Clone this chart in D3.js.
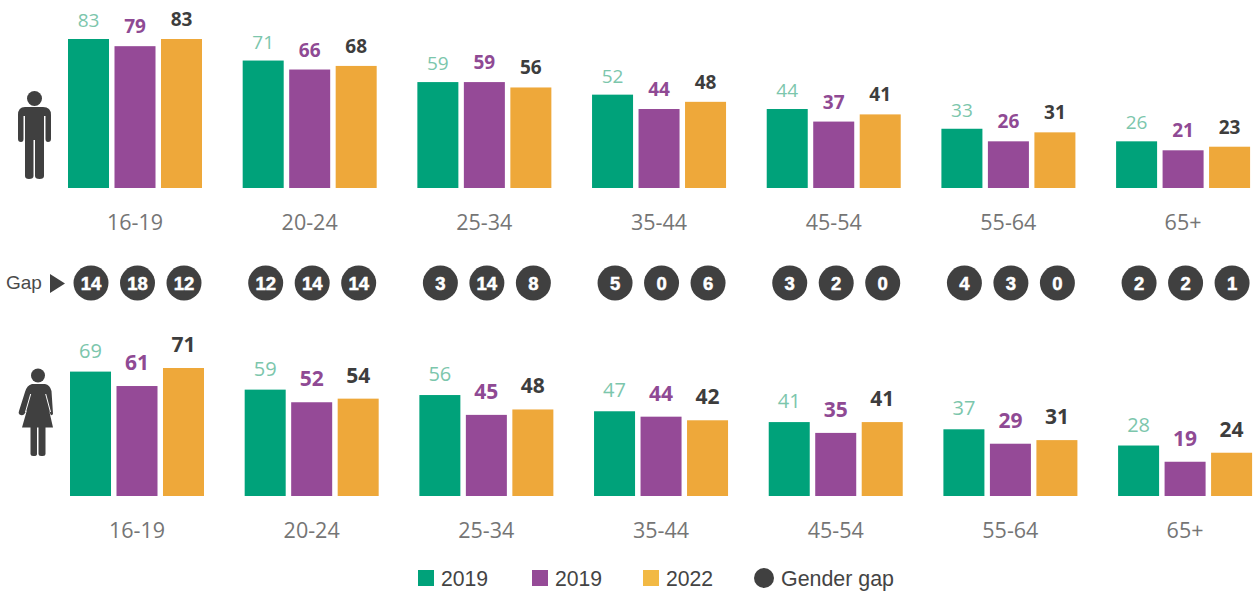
<!DOCTYPE html>
<html><head><meta charset="utf-8">
<script src="https://cdn.jsdelivr.net/npm/d3@7"></script>
<style>html,body{margin:0;padding:0;background:#fff}svg{display:block}</style>
</head><body><svg id="c" width="1259" height="594"></svg>
<script>
const ages = ["16-19","20-24","25-34","35-44","45-54","55-64","65+"];
const seriesNames = ["2019","2019b","2022"];
const legendLabels = ["2019","2019","2022"];
const barColors = ["#00a27a","#954a97","#eea83a"];
const legendColors = ["#00a27a","#954a97","#f2b944"];
const labelColors = ["#7cc6ac","#8f4a94","#3d3d3d"];
const labelWeights = [400,700,700];
const men2019a = [83,71,59,52,44,33,26];
const men2019b = [79,66,59,44,37,26,21];
const men2022  = [83,68,56,48,41,31,23];
const women2019a = [69,59,56,47,41,37,28];
const women2019b = [61,52,45,44,35,29,19];
const women2022  = [71,54,48,42,41,31,24];
const gapA = [14,12,3,5,3,4,2];
const gapB = [18,14,14,0,2,3,2];
const gapC = [12,14,8,6,0,0,1];

const svg = d3.select("#c");
const dark = "#404040";
const sans = "'Open Sans',sans-serif";
const arial = "'Liberation Sans',Arial,sans-serif";

const xInner = d3.scaleBand().domain(seriesNames).range([0,134]).paddingInner(0.118);
const xTop = d3.scaleBand().domain(ages).range([68,1250]).paddingInner(0.2334);
const xBot = d3.scaleBand().domain(ages).range([70,1252]).paddingInner(0.2334);
const yTop = d3.scaleLinear().domain([0,83]).range([188,39]);
const yBot = d3.scaleLinear().domain([0,71]).range([496,368]);

function panel(cls, x, y, rows, labelOffset, labelSizes, ageY){
  const g = svg.append("g").attr("class",cls);
  ages.forEach((a,i)=>{
    const ag = g.append("g").attr("transform",`translate(${x(a)},0)`);
    rows.forEach((r,s)=>{
      ag.append("rect").attr("x",xInner(seriesNames[s])).attr("y",y(r[i]))
        .attr("width",xInner.bandwidth()).attr("height",y(0)-y(r[i])).attr("fill",barColors[s]);
      ag.append("text").attr("x",xInner(seriesNames[s])+xInner.bandwidth()/2)
        .attr("y",y(r[i])-labelOffset[s]).attr("text-anchor","middle")
        .attr("font-family",sans).attr("font-size",labelSizes[s]).attr("font-weight",labelWeights[s])
        .attr("fill",labelColors[s]).text(r[i]);
    });
  });
  const axis = d3.axisBottom(x).tickSize(0).tickPadding(0);
  const ax = g.append("g").attr("transform",`translate(0,${ageY})`).call(axis);
  ax.select(".domain").remove();
  ax.selectAll("text").attr("font-family",sans).attr("font-size",21.5).attr("fill","#757575").attr("dy",0).attr("y",0);
}
panel("men",xTop,yTop,[men2019a,men2019b,men2022],[12,13,13],[19,19,19],230);
panel("women",xBot,yBot,[women2019a,women2019b,women2022],[14,16,16],[20,21,21],538);

// gender gap row
const gapRows=[gapA,gapB,gapC];
const gapG = svg.append("g").attr("class","gaps");
ages.forEach((a,i)=>{
  gapRows.forEach((r,s)=>{
    const cx = xBot(a)+xInner(seriesNames[s])+xInner.bandwidth()/2+0.5;
    gapG.append("circle").attr("cx",cx).attr("cy",283).attr("r",17.5).attr("fill",dark);
    gapG.append("text").attr("x",cx).attr("y",289.5).attr("text-anchor","middle")
      .attr("font-family",arial).attr("font-weight",700).attr("font-size",18.5)
      .attr("stroke","#fff").attr("stroke-width",0.5).attr("fill","#fff").text(r[i]);
  });
});
svg.append("text").attr("x",6).attr("y",289).attr("font-family",arial).attr("font-size",19).attr("fill","#4a4a4a").text("Gap");
svg.append("path").attr("d","M50,274 L65,283.5 L50,293 Z").attr("fill",dark);

// person icons
svg.append("g").attr("fill",dark).call(g=>{
  g.append("circle").attr("cx",34.5).attr("cy",98.5).attr("r",7.5);
  g.append("path").attr("d","M25,107 H43 Q51,107 51,115 V139 Q51,142 48,142 Q45.5,142 45.5,139 V116 H44 V176 Q44,179 39.5,179 Q35,179 35,176 V140 H33.5 V176 Q33.5,179 29,179 Q25,179 25,176 V116 H23.5 V139 Q23.5,142 21,142 Q18,142 18,139 V115 Q18,107 25,107 Z");
  g.append("circle").attr("cx",38).attr("cy",375.5).attr("r",7);
  g.append("path").attr("d","M32,384 H45 Q50,385 51.5,391 L53,414 Q52,416 50.5,414.5 L49,410 L53,427.5 H22 L27,410 L24,414.5 Q22,416 19.5,414.5 Q18,413 19,411 L25,392 Q27,385 32,384 Z");
  g.append("path").attr("d","M30.5,427 H37 V454 Q37,456 34,456 H33 Q30.5,456 30.5,454 Z M38.5,427 H45.5 V454 Q45.5,456 43,456 H41 Q38.5,456 38.5,454 Z");
  g.append("path").attr("d","M30.7,394 L25.5,412 M45.7,394 L50.5,412").attr("stroke","#fff").attr("stroke-width",1).attr("fill","none");
});

// legend
const legendRectX=[418,532,643], legendTextX=[441,555,666];
const lg = svg.append("g");
legendLabels.forEach((t,i)=>{
  lg.append("rect").attr("x",legendRectX[i]).attr("y",570).attr("width",16).attr("height",16).attr("fill",legendColors[i]);
  lg.append("text").attr("x",legendTextX[i]).attr("y",585.5).attr("font-family",arial).attr("font-size",21.2).attr("fill","#444").text(t);
});
lg.append("circle").attr("cx",764).attr("cy",578).attr("r",10).attr("fill",dark);
lg.append("text").attr("x",781).attr("y",585.5).attr("font-family",arial).attr("font-size",21.4).attr("fill","#444").text("Gender gap");
</script></body></html>
